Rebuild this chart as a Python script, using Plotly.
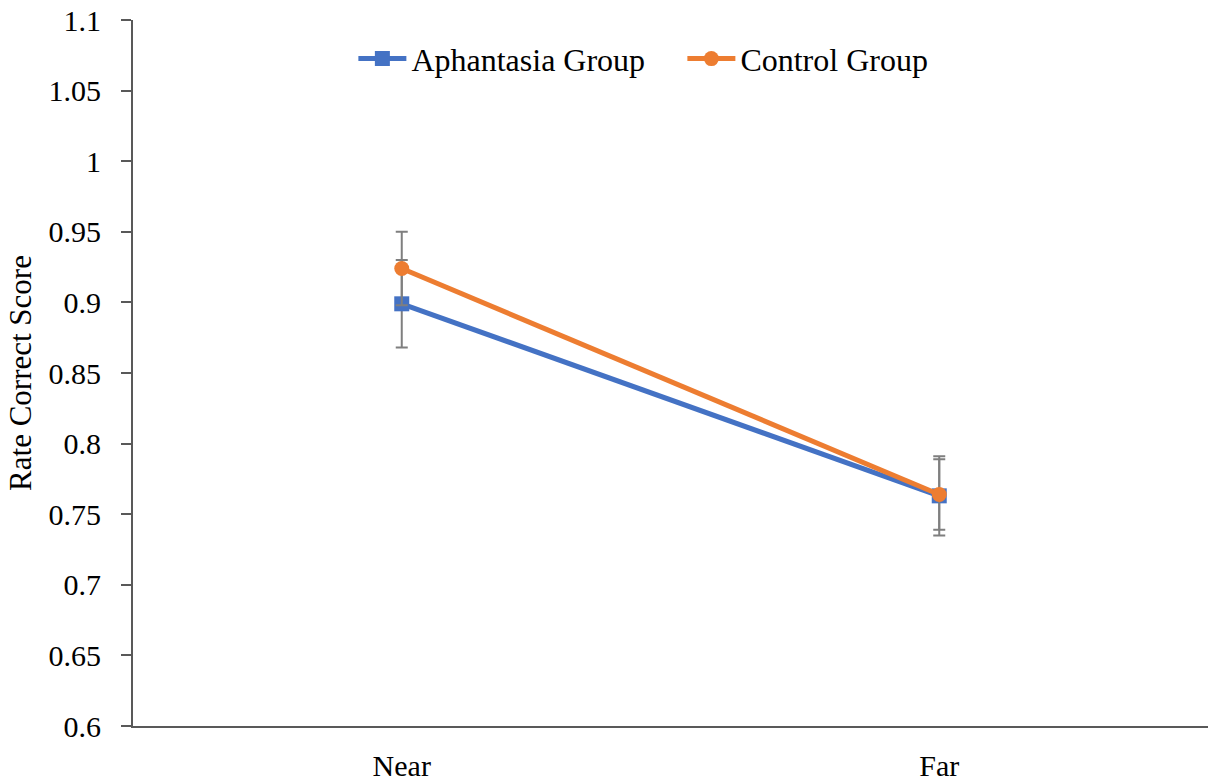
import plotly.graph_objects as go

categories = ["Near", "Far"]
aphantasia = [0.899, 0.763]
aphantasia_err = [0.031, 0.028]
control = [0.924, 0.764]
control_err = [0.026, 0.025]
y_ticks = [0.6, 0.65, 0.7, 0.75, 0.8, 0.85, 0.9, 0.95, 1.0, 1.05, 1.1]
y_tick_labels = ["0.6", "0.65", "0.7", "0.75", "0.8", "0.85", "0.9", "0.95", "1", "1.05", "1.1"]

FAM = "Liberation Serif"
err_style = dict(type="data", color="#7f7f7f", thickness=2, width=6, visible=True)

fig = go.Figure()
fig.add_trace(go.Scatter(
    x=categories, y=aphantasia, name="Aphantasia Group", mode="lines+markers",
    line=dict(color="#4472c4", width=5),
    marker=dict(symbol="square", size=15, color="#4472c4"),
    error_y=dict(array=aphantasia_err, **err_style),
))
fig.add_trace(go.Scatter(
    x=categories, y=control, name="Control Group", mode="lines+markers",
    line=dict(color="#ed7d31", width=5),
    marker=dict(symbol="circle", size=15, color="#ed7d31"),
    error_y=dict(array=control_err, **err_style),
))

fig.update_layout(
    width=1208, height=782,
    margin=dict(l=133, r=0, t=20, b=51),
    paper_bgcolor="white", plot_bgcolor="white",
    font=dict(family=FAM, size=30, color="black"),
    showlegend=True,
    legend=dict(orientation="h", x=0.205, xanchor="left", y=0.984, yanchor="top",
                font=dict(family=FAM, size=32, color="black"),
                bgcolor="rgba(0,0,0,0)", itemwidth=48,
                entrywidth=266, entrywidthmode="pixels"),
    xaxis=dict(type="category", range=[-0.5, 1.5], showgrid=False, zeroline=False,
               showline=True, linecolor="#595959", linewidth=2, ticks="",
               tickfont=dict(family=FAM, size=30, color="black"), ticklabelstandoff=12),
    yaxis=dict(range=[0.6, 1.1], tickvals=y_ticks, ticktext=y_tick_labels,
               showgrid=False, zeroline=False, showline=True, linecolor="#595959",
               linewidth=2, ticks="outside", ticklen=10, tickwidth=2, tickcolor="#595959",
               tickfont=dict(family=FAM, size=30, color="black"), ticklabelstandoff=14,
               title=dict(text="Rate Correct Score", font=dict(family=FAM, size=31, color="black"),
                          standoff=8)),
)

fig.write_html("out.html")
